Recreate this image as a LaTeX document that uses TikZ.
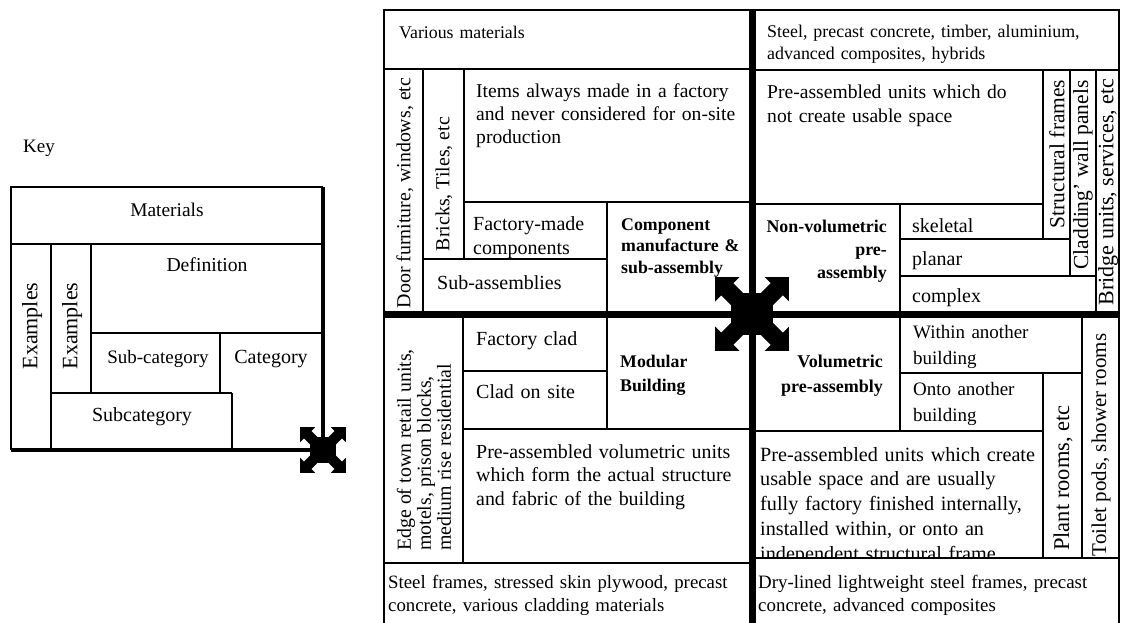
\documentclass[tikz,border=0pt]{standalone}
\usepackage{fontspec}
\setmainfont{Liberation Serif}
\newcommand\fsz[2]{\fontsize{#1}{#2}\selectfont}
\tikzset{
  cell/.style={line width=1.4pt},
  rim/.style={line width=2pt},
  spine/.style={line width=7pt},
  keyspine/.style={line width=4pt},
  txt/.style={anchor=base west, inner sep=0pt, align=left, text width=#1},
  txt/.default=340pt,
  rtxt/.style={anchor=base east, inner sep=0pt, align=right, text width=#1},
  ctr/.style={anchor=base, inner sep=0pt},
  vtxt/.style={anchor=center, inner sep=0pt, rotate=90, align=left},
  pics/movestar/.style={code={
    \foreach \ang in {45,135,225,315}{
      \fill[rotate=\ang] (0,-8.5) -- (35,-8.5) -- (35,-17) -- (52,0) -- (35,17) -- (35,8.5) -- (0,8.5) -- cycle;
    }
    \fill (22.5:22.5) -- (67.5:22.5) -- (112.5:22.5) -- (157.5:22.5) -- (202.5:22.5) -- (247.5:22.5) -- (292.5:22.5) -- (337.5:22.5) -- cycle;
  }}
}
\begin{document}
\begin{tikzpicture}[x=1pt,y=-1pt]
\useasboundingbox (0,0) rectangle (1122,623);

% ---------------- key ----------------
\node[txt=60pt, font=\fsz{19}{22}] (keytitle) at (23,153) {Key};
\draw[rim] (11,450) -- (11,187) -- (323,187);
\draw[cell] (11,244) -- (323,244);
\draw[cell] (51,244) -- (51,450);
\draw[cell] (91,244) -- (91,393);
\draw[cell] (91,333) -- (323,333);
\draw[cell] (220,333) -- (220,393);
\draw[cell] (51,393) -- (232,393);
\draw[cell] (232,393) -- (232,450);
\draw[keyspine] (323,187) -- (323,450) -- (11,450);
\node[ctr, font=\fsz{19.4}{22}] (kmat) at (167,216) {Materials};
\node[vtxt, font=\fsz{22}{24}] (kex1) at (32,326) {Examples};
\node[vtxt, font=\fsz{22}{24}] (kex2) at (72,326) {Examples};
\node[ctr, font=\fsz{19.7}{22}] (kdef) at (207,271) {Definition};
\node[ctr, font=\fsz{19}{22}] (ksubcat) at (158,363) {Sub-category};
\node[ctr, font=\fsz{20}{22}] (kcat) at (271,363) {Category};
\node[ctr, font=\fsz{20}{22}] (ksub) at (142,421) {Subcategory};
\coordinate (keyhub) at (323,450);
\pic[scale=0.62] at (keyhub) {movestar};

% ---------------- chart frame ----------------
\draw[rim] (384,623) -- (384,10) -- (1119,10) -- (1119,623);

% top-left: component manufacture & sub-assembly
\draw[cell] (384,69) -- (752,69);
\draw[cell] (423,69) -- (423,314);
\draw[cell] (464,69) -- (464,259);
\draw[cell] (464,202) -- (752,202);
\draw[cell] (607,202) -- (607,314);
\draw[cell] (423,259) -- (607,259);
\node[txt, font=\fsz{17.8}{22}] (tlmat) at (399,39) {Various materials};
\node[vtxt, font=\fsz{19.9}{22}] (tlex1) at (405,193) {Door furniture, windows, etc};
\node[vtxt, font=\fsz{19.9}{22}] (tlex2) at (444,184) {Bricks, Tiles, etc};
\node[txt=270pt, font=\fsz{19.6}{23}] (tldef) at (476,98) {Items always made in a factory\\and never considered for on-site\\production};
\node[txt=130pt, font=\fsz{20}{24}] (tlsub1) at (473,230) {Factory-made\\components};
\node[txt=170pt, font=\fsz{20}{24}] (tlsub2) at (437,289) {Sub-assemblies};
\node[txt=135pt, font=\bfseries\fsz{17.8}{21.5}] (tlcat) at (621,230) {Component\\manufacture \&\\sub-assembly};

% top-right: non-volumetric pre-assembly
\draw[cell] (752,70) -- (1119,70);
\draw[cell] (1043,70) -- (1043,239);
\draw[cell] (1070,70) -- (1070,276);
\draw[cell] (1096,70) -- (1096,314);
\draw[cell] (752,204) -- (1043,204);
\draw[cell] (900,204) -- (900,314);
\draw[cell] (900,239) -- (1070,239);
\draw[cell] (900,276) -- (1096,276);
\node[txt, font=\fsz{17.9}{22}] (trmat) at (767,38) {Steel, precast concrete, timber, aluminium,\\advanced composites, hybrids};
\node[txt=270pt, font=\fsz{19.6}{24}] (trdef) at (767,99) {Pre-assembled units which do\\not create usable space};
\node[vtxt, font=\fsz{21.5}{24}] (trex1) at (1057,154) {Structural frames};
\node[vtxt, font=\fsz{21.5}{24}] (trex2) at (1083,175) {Cladding' wall panels};
\node[vtxt, font=\fsz{22}{24}] (trex3) at (1108,192) {Bridge units, services, etc};
\node[rtxt=140pt, font=\bfseries\fsz{17.9}{23}] (trcat) at (887,232) {Non-volumetric\\pre-\\assembly};
\node[txt=125pt, font=\fsz{20}{24}] (trsub1) at (912,232) {skeletal};
\node[txt=150pt, font=\fsz{20}{24}] (trsub2) at (912,265) {planar};
\node[txt=175pt, font=\fsz{20}{24}] (trsub3) at (912,302) {complex};

% bottom-left: modular building
\draw[cell] (463,314) -- (463,563);
\draw[cell] (463,371) -- (607,371);
\draw[cell] (607,314) -- (607,429);
\draw[cell] (463,429) -- (752,429);
\draw[cell] (384,563) -- (752,563);
\node[vtxt, font=\fsz{19.9}{20}] (blex) at (424,450) {Edge of town retail units,\\motels, prison blocks,\\medium rise residential};
\node[txt=130pt, font=\fsz{20}{24}] (blsub1) at (476,345) {Factory clad};
\node[txt=130pt, font=\fsz{20}{24}] (blsub2) at (476,398) {Clad on site};
\node[txt=130pt, font=\bfseries\fsz{17.8}{24}] (blcat) at (620,367) {Modular\\Building};
\node[txt=272pt, font=\fsz{19.9}{23.5}] (bldef) at (476,458) {Pre-assembled volumetric units\\which form the actual structure\\and fabric of the building};
\node[txt, font=\fsz{18.8}{23}] (blmat) at (388,588) {Steel frames, stressed skin plywood, precast\\concrete, various cladding materials};

% bottom-right: volumetric pre-assembly
\draw[cell] (900,314) -- (900,431);
\draw[cell] (900,373) -- (1082,373);
\draw[cell] (1082,314) -- (1082,558);
\draw[cell] (1043,373) -- (1043,558);
\draw[cell] (752,431) -- (1043,431);
\draw[cell] (752,558) -- (1119,558);
\node[rtxt=140pt, font=\bfseries\fsz{18}{25}] (brcat) at (883,367) {Volumetric\\pre-assembly};
\node[txt=165pt, font=\fsz{19}{26}] (brsub1) at (913,338) {Within another\\building};
\node[txt=125pt, font=\fsz{19}{26}] (brsub2) at (913,395) {Onto another\\building};
\node[vtxt, font=\fsz{22.5}{24}] (brex1) at (1063,478) {Plant rooms, etc};
\node[vtxt, font=\fsz{21}{24}] (brex2) at (1101,445) {Toilet pods, shower rooms};
\begin{scope}
  \clip (752,431) rectangle (1043,556);
  \node[txt=330pt, font=\fsz{20.2}{24.75}] (brdef) at (760,461) {Pre-assembled units which create\\usable space and are usually\\fully factory finished internally,\\installed within, or onto an\\independent structural frame};
\end{scope}
\node[txt, font=\fsz{18.9}{23}] (brmat) at (758,588) {Dry-lined lightweight steel frames, precast\\concrete, advanced composites};

% central cross and hub
\draw[spine] (752,10) -- (752,623);
\draw[spine] (384,314) -- (1119,314);
\coordinate (hub) at (752,314);
\pic at (hub) {movestar};
\end{tikzpicture}
\end{document}
